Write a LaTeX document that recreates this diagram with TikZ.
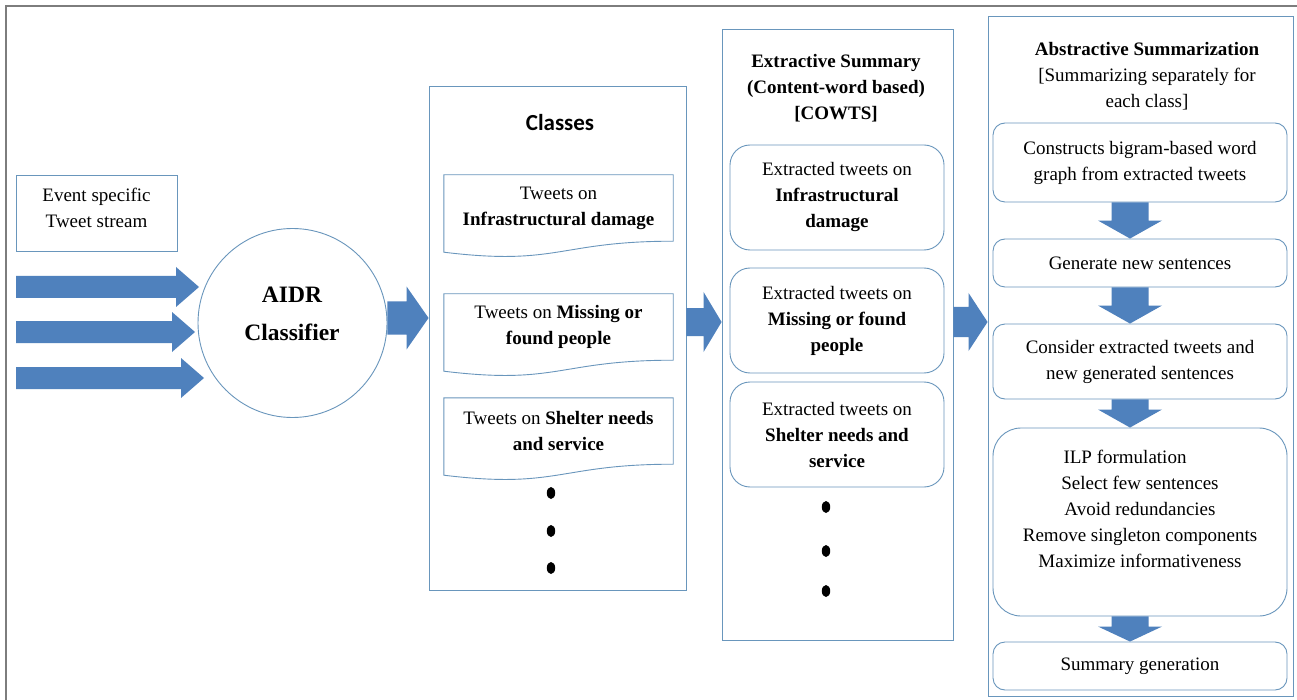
\documentclass[tikz,border=0pt]{standalone}
\usepackage{fontspec}
\setmainfont{Liberation Serif}
\newfontfamily\calibrifont{Carlito}
\usetikzlibrary{calc}
\definecolor{boxline}{RGB}{105,150,188}
\definecolor{arrowblue}{RGB}{79,129,189}
\definecolor{framegray}{RGB}{125,125,125}
% horizontal block arrow: start, tip, shaft half, head half, head length
\newcommand\harrow[5]{\fill[blockarrow] let \p1=(#1), \p2=(#2) in
  (\x1,\y1+#3pt) -- (\x2-#5pt,\y1+#3pt) -- (\x2-#5pt,\y1+#4pt) -- (\x2,\y1)
  -- (\x2-#5pt,\y1-#4pt) -- (\x2-#5pt,\y1-#3pt) -- (\x1,\y1-#3pt) -- cycle;}
% vertical (downward) block arrow
\newcommand\varrow[5]{\fill[blockarrow] let \p1=(#1), \p2=(#2) in
  (\x1-#3pt,\y1) -- (\x1-#3pt,\y2+#5pt) -- (\x1-#4pt,\y2+#5pt) -- (\x1,\y2)
  -- (\x1+#4pt,\y2+#5pt) -- (\x1+#3pt,\y2+#5pt) -- (\x1+#3pt,\y1) -- cycle;}
% document shape outline around a node
\newcommand\docoutline[1]{\draw[line] (#1.north west) -- (#1.north east) -- (#1.south east)
  .. controls (#1.south) and ($(#1.south)+(0,25)$) .. ($(#1.south west)+(0,11)$) -- cycle;}
\begin{document}
\begin{tikzpicture}[x=1pt,y=-1pt,
  font=\fontsize{19}{26}\selectfont,
  line/.style={draw=boxline, line width=0.9pt},
  plainbox/.style={line, inner sep=0pt, align=center},
  roundbox/.style={plainbox, rounded corners=12pt},
  bigpanel/.style={line, inner sep=0pt},
  docnode/.style={inner sep=0pt, align=center, minimum width=229pt, minimum height=66pt},
  boldtext/.style={font=\bfseries\fontsize{19}{26}\selectfont, align=center},
  blockarrow/.style={fill=arrowblue, draw=none}]
\useasboundingbox (0,0) rectangle (1297,700);
\fill[white] (0,0) rectangle (1297,700);
% outer frame (only top and left visible)
\draw[framegray, line width=2pt] (6,700) -- (6,6) -- (1297,6);

% panels
\node[bigpanel, minimum width=257pt, minimum height=504pt] (classes) at (557.5,338) {};
\node[bigpanel, minimum width=231pt, minimum height=611pt] (extr) at (837.5,334.5) {};
\node[bigpanel, minimum width=305pt, minimum height=680pt] (abs) at (1140.5,356) {};

% input
\node[plainbox, minimum width=161pt, minimum height=76pt] (evt) at (96.5,213) {};
\node[align=center] (evttxt) at (96.5,208) {Event specific\\Tweet stream};
\node[line, circle, minimum size=189pt, inner sep=0pt] (circ) at (292.5,323) {};
\node[font=\bfseries\fontsize{23.5}{38}\selectfont, align=center] (circtxt) at (292,314) {AIDR\\Classifier};

\coordinate (in1s) at (16,287);  \coordinate (in1e) at (199,287);
\coordinate (in2s) at (16,332);  \coordinate (in2e) at (195,332);
\coordinate (in3s) at (16,378);  \coordinate (in3e) at (204,378);
\harrow{in1s}{in1e}{11}{20}{23}
\harrow{in2s}{in2e}{11}{20}{23}
\harrow{in3s}{in3e}{11}{20}{23}

\coordinate (c2s) at ($(circ.east)+(0,-5)$);
\coordinate (c2e) at (classes.west |- c2s);
\harrow{c2s}{c2e}{16.5}{31.5}{22}

% classes
\node[font=\calibrifont\bfseries\fontsize{23}{28}\selectfont] (clstitle) at (560,123) {Classes};
\node[docnode] (d1) at (558.5,208) {Tweets on\\\textbf{Infrastructural damage}};
\docoutline{d1}
\node[docnode] (d2) at (558.5,327) {Tweets on \textbf{Missing or}\\\textbf{found people}};
\docoutline{d2}
\node[docnode] (d3) at (558.5,431) {Tweets on \textbf{Shelter needs}\\\textbf{and service}};
\docoutline{d3}
\fill (551,493) ellipse [x radius=4.2pt, y radius=6pt];
\fill (551,531) ellipse [x radius=4.2pt, y radius=6pt];
\fill (551,568) ellipse [x radius=4.2pt, y radius=6pt];

\coordinate (c3s) at (classes.east |- 0,322);
\coordinate (c3e) at (extr.west |- 0,322);
\harrow{c3s}{c3e}{14}{30}{18}

% extractive
\node[boldtext] (extitle) at (836,88) {Extractive Summary\\(Content-word based)\\{[COWTS]}};
\node[roundbox, rounded corners=20pt, minimum width=214pt, minimum height=105pt] (e1) at (837,197.5)
  {Extracted tweets on\\\textbf{Infrastructural}\\\textbf{damage}};
\node[roundbox, rounded corners=20pt, minimum width=214pt, minimum height=105pt] (e2) at (837,320.5)
  {Extracted tweets on\\\textbf{Missing or found}\\\textbf{people}};
\node[roundbox, rounded corners=20pt, minimum width=214pt, minimum height=105pt] (e3) at (837,434.5)
  {Extracted tweets on\\\textbf{Shelter needs and}\\\textbf{service}};
\fill (826,507) ellipse [x radius=4.2pt, y radius=6pt];
\fill (826,551) ellipse [x radius=4.2pt, y radius=6pt];
\fill (826,591) ellipse [x radius=4.2pt, y radius=6pt];

\coordinate (c4s) at (extr.east |- 0,322);
\coordinate (c4e) at (abs.west |- 0,322);
\harrow{c4s}{c4e}{15}{29}{19}

% abstractive
\node[align=center] (abstitle) at (1147,76) {\textbf{Abstractive Summarization}\\\relax[Summarizing separately for\\each class]};
\node[roundbox, minimum width=294pt, minimum height=79pt] (a1) at (1140,162.5)
  {Constructs bigram-based word\\graph from extracted tweets};
\node[roundbox, minimum width=294pt, minimum height=48pt] (a2) at (1140,263) {Generate new sentences};
\node[roundbox, minimum width=294pt, minimum height=75pt] (a3) at (1140,361.5)
  {Consider extracted tweets and\\new generated sentences};
\node[roundbox, rounded corners=28pt, minimum width=294pt, minimum height=188pt] (a4) at (1140,522)
  {ILP formulation\rule{30pt}{0pt}\\Select few sentences\\Avoid redundancies\\Remove singleton components\\Maximize informativeness\\\mbox{}};
\node[roundbox, minimum width=294pt, minimum height=48pt] (a5) at (1140,666) {Summary generation};

\coordinate (ax) at (1130,0);
\varrow{a1.south -| ax}{a2.north -| ax}{18.5}{32}{18}
\varrow{a2.south -| ax}{a3.north -| ax}{18.5}{32}{18}
\varrow{a3.south -| ax}{a4.north -| ax}{18.5}{32}{18}
\varrow{a4.south -| ax}{a5.north -| ax}{18.5}{32}{15}
\end{tikzpicture}
\end{document}
